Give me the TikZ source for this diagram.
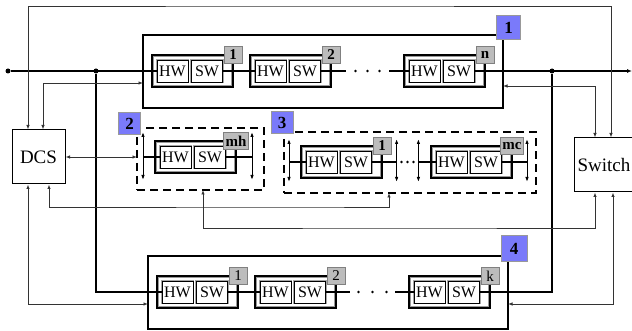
\documentclass[tikz,border=0pt]{standalone}
\usepackage{fontspec}
\setmainfont{Liberation Serif}
\usetikzlibrary{arrows.meta}
\definecolor{tagblue}{RGB}{122,122,250}
\definecolor{taggray}{RGB}{188,188,188}
\tikzset{every picture/.style={line width=.8pt}}
\tikzset{
 grpbox/.style={draw,line width=2pt,inner sep=0pt,outer sep=0pt},
 dashbox/.style={draw,line width=1.3pt,dash pattern=on 8pt off 5pt,inner sep=0pt,outer sep=0pt},
 modbox/.style={draw,line width=1.2pt,minimum width=81pt,minimum height=32pt,inner sep=0pt,outer sep=0pt},
 unitbox/.style={draw,fill=white,line width=.7pt,preaction={draw=black!35,line width=2.2pt},
  minimum width=31pt,minimum height=22pt,inner sep=0pt,outer sep=0pt,font=\fontsize{16}{18}\selectfont},
 tagbold/.style={draw=black!50,fill=taggray,line width=.6pt,inner sep=0pt,inner xsep=2pt,
  minimum width=18pt,minimum height=17pt,font=\bfseries\fontsize{15}{15}\selectfont},
 tagplain/.style={tagbold,font=\fontsize{15}{15}\selectfont},
 grptag/.style={draw=black!40,fill=tagblue,line width=.6pt,inner sep=0pt,minimum size=24pt,
  font=\bfseries\fontsize{17}{17}\selectfont},
 ctrlbox/.style={draw,line width=1pt,fill=white,inner sep=0pt,minimum width=53pt,minimum height=54pt,
  font=\fontsize{19}{21}\selectfont},
 link/.style={draw=black!80,line width=.8pt,{Latex[length=4.5pt,width=3.5pt]}-{Latex[length=4.5pt,width=3.5pt]}},
 bus/.style={line width=1.6pt},
 vbar/.style={line width=1pt,{Latex[length=5pt,width=3.5pt]}-{Latex[length=5pt,width=3.5pt]}},
 dot/.style={circle,fill,inner sep=0pt,minimum size=5pt},
 dotrow/.style={inner sep=0pt,minimum height=4pt},
}
% one HW/SW module: name, left, top, tag, tag style
\newcommand{\hwsw}[5]{%
 \node[modbox] (#1) at (#2+40.5,#3+16) {};
 \draw[black!40,line width=.5pt] ([shift={(1.5pt,-1.5pt)}]#1.north west) rectangle ([shift={(-1.5pt,1.5pt)}]#1.south east);
 \node[unitbox] (#1hw) at (#2+20.5,#3+16) {HW};
 \node[unitbox] (#1sw) at (#2+55,#3+16) {SW};
 \node[#5] (#1tag) at (#1.north east) {#4};
}

\begin{document}
\begin{tikzpicture}[x=1pt,y=-1pt]
 \useasboundingbox (0,0) rectangle (632,331);
 % control units
 \node[ctrlbox] (dcs) at (38.5,157) {DCS};
 \node[ctrlbox,minimum width=60pt] (swt) at (604,165) {Switch};
 % groups
 \node[grpbox,minimum width=360pt,minimum height=73pt] (grp1) at (323,71.5) {};
 \node[dashbox,minimum width=127pt,minimum height=62pt] (grp2) at (200.5,159) {};
 \node[dashbox,minimum width=252pt,minimum height=61pt] (grp3) at (410,162.5) {};
 \node[grpbox,minimum width=360pt,minimum height=73pt] (grp4) at (328,292.5) {};
 % modules
 \hwsw{n1}{152}{55}{1}{tagbold}
 \hwsw{n2}{250}{55}{2}{tagbold}
 \hwsw{nn}{404}{55}{n}{tagbold}
 \hwsw{mh}{155}{141}{mh}{tagbold}
 \hwsw{c1}{301}{146}{1}{tagbold}
 \hwsw{cm}{431}{146}{mc}{tagbold}
 \hwsw{k1}{157}{276}{1}{tagplain}
 \hwsw{k2}{255}{276}{2}{tagplain}
 \hwsw{kk}{409}{276}{k}{tagplain}
 % group tags
 \node[grptag] (tag1) at (508.5,27.5) {1};
 \node[grptag,minimum size=22pt] (tag2) at (129.5,123.5) {2};
 \node[grptag,minimum size=22pt] (tag3) at (282,122.5) {3};
 \node[grptag,minimum size=26pt] (tag4) at (514,248.5) {4};
 % bus
 \node[dot] (p0) at (8,71) {};
 \node[dot] (p1) at (96,71) {};
 \node[dot] (p2) at (552,71) {};
 \coordinate (busend) at (632,71);
 \node[dotrow,minimum width=43pt] (dotsa) at (367.5,71) {};
 \node[dotrow,minimum width=45pt] (dotsk) at (372.5,292) {};
 \node[dotrow,minimum width=21pt] (dotsc) at (407.5,162) {};
 \foreach \dx in {-12,0,12} \fill ([xshift=\dx pt]dotsa.center) circle (1.4pt);
 \foreach \dx in {-14,0,14} \fill ([xshift=\dx pt]dotsk.center) circle (1.4pt);
 \foreach \dx in {-6,0,6} \fill ([xshift=\dx pt]dotsc.center) circle (1.3pt);
 \draw[bus] (p0) -- (n1hw.west);
 \draw[bus] (n1sw.east) -- (n2hw.west);
 \draw[bus] (n2sw.east) -- (dotsa.west);
 \draw[bus] (dotsa.east) -- (nnhw.west);
 \draw[bus,-{Latex[length=5pt,width=4pt]}] (nnsw.east) -- (busend);
 \draw[bus] (p1) |- (k1hw.west);
 \draw[bus] (p2) |- (kksw.east);
 \draw[bus] (k1sw.east) -- (k2hw.west);
 \draw[bus] (k2sw.east) -- (dotsk.west);
 \draw[bus] (dotsk.east) -- (kkhw.west);
 % local lines in groups 2 and 3
 \coordinate (mhl) at (143,157);
 \coordinate (mhr) at (252,157);
 \coordinate (c1l) at (289,162);
 \coordinate (cmr) at (527,162);
 \draw[line width=1.1pt] (mhl) -- (mhhw.west);
 \draw[line width=1.1pt] (mhsw.east) -- (mhr);
 \draw[line width=1.1pt] (c1l) -- (c1hw.west);
 \draw[line width=1.1pt] (c1sw.east) -- (dotsc.west);
 \draw[line width=1.1pt] (dotsc.east) -- (cmhw.west);
 \draw[line width=1.1pt] (cmsw.east) -- (cmr);
 \foreach \p in {mhl,mhr}
  \draw[vbar] ([yshift=25pt]\p) -- ([yshift=-23pt]\p);
 \foreach \p in {c1l,dotsc.west,dotsc.east,cmr}
  \draw[vbar] ([yshift=23pt]\p) -- ([yshift=-20pt]\p);
 % control links
 \draw[link] ([xshift=-10.5pt]dcs.north) |- (300,6) -| ([xshift=7pt]swt.north);
 \draw[link] ([xshift=4.5pt]dcs.north) |- ([yshift=-11.5pt]grp1.west);
 \draw[link] ([xshift=-9pt]swt.north) |- ([yshift=-14.5pt]grp1.east);
 \draw[link] (dcs.east) -- (dcs.east -| grp2.west);
 \draw[link] ([xshift=10.5pt]dcs.south) |- (300,207) -| ([xshift=-21pt]grp3.south);
 \draw[link] ([xshift=-10.5pt]dcs.south) |- ([yshift=-11.5pt]grp4.west);
 \draw[link] ([xshift=-9pt]swt.south) |- (400,228) -| ([xshift=2.5pt]grp2.south);
 \draw[link] ([xshift=9pt]swt.south) |- ([yshift=-11.5pt]grp4.east);
\end{tikzpicture}
\end{document}
